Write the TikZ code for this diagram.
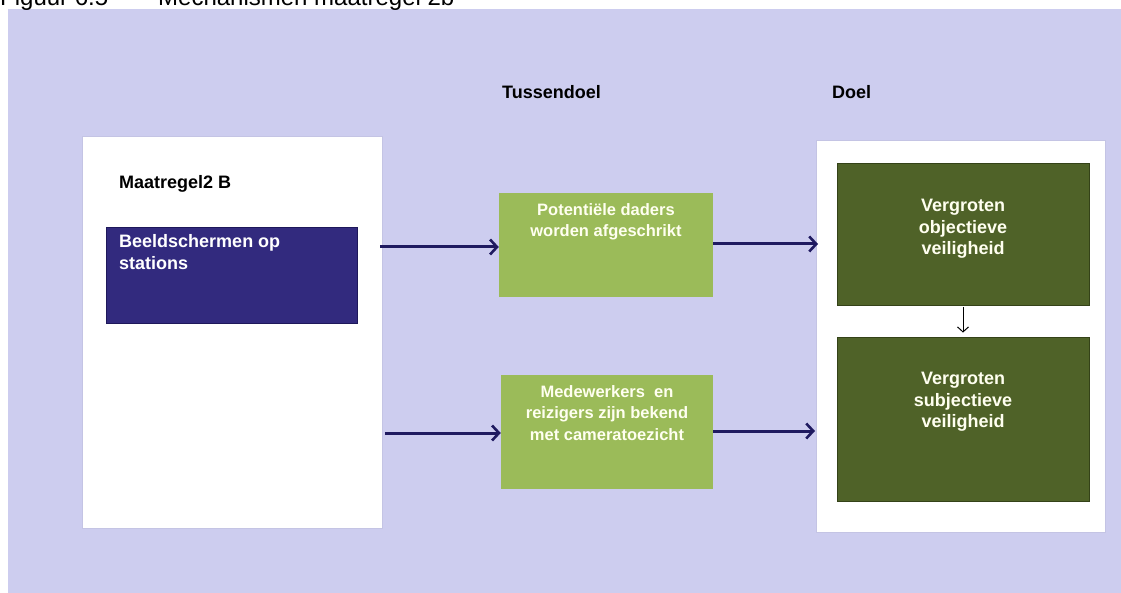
\documentclass[tikz,border=0pt]{standalone}
\usepackage{fontspec}
\setmainfont{Liberation Sans}
\usetikzlibrary{arrows.meta}
\definecolor{lav}{RGB}{205,205,239}
\definecolor{lavedge}{RGB}{196,196,228}
\definecolor{navybox}{RGB}{50,42,126}
\definecolor{navyedge}{RGB}{30,24,90}
\definecolor{arrowc}{RGB}{31,26,96}
\definecolor{lgreen}{RGB}{155,187,89}
\definecolor{dgreen}{RGB}{79,98,40}
\definecolor{dgedge}{RGB}{52,66,24}
\definecolor{cream}{RGB}{255,255,240}
\tikzset{
  panel/.style={draw=lavedge, line width=0.8pt, fill=white, rectangle, inner sep=0pt},
  navyrect/.style={draw=navyedge, line width=0.8pt, fill=navybox, rectangle, inner sep=0pt},
  greenrect/.style={fill=lgreen, rectangle, inner sep=0pt},
  darkrect/.style={draw=dgedge, line width=0.8pt, fill=dgreen, rectangle, inner sep=0pt},
  heading/.style={font=\fontsize{18}{21}\selectfont\bfseries, text=black, inner sep=0pt},
  whitetext/.style={font=\fontsize{18}{22}\selectfont\bfseries, text=white, inner sep=0pt, align=left},
  greentext/.style={font=\fontsize{16.5}{21.5}\selectfont\bfseries, text=cream, inner sep=0pt, align=center},
  darktext/.style={font=\fontsize{18}{21.5}\selectfont\bfseries, text=cream, inner sep=0pt, align=center},
  flow/.style={draw=arrowc, line width=3pt, -{Straight Barb[length=7pt,width=15pt,line width=2.6pt]}},
  thinflow/.style={draw=black, line width=1pt, -{Straight Barb[length=5pt,width=11pt,line width=1pt]}},
}
\begin{document}
\begin{tikzpicture}[x=1pt,y=-1pt]
\useasboundingbox (0,0) rectangle (1121,593);
\clip (0,0) rectangle (1121,593);
% background
\fill[lav] (8,9) rectangle (1121,593);
% caption (cut off at the top, as in the source)
\node[font=\fontsize{24}{28}\selectfont, anchor=base west, inner sep=0pt] (cap1) at (0,6) {Figuur 6.5};
\node[font=\fontsize{24}{28}\selectfont, anchor=base west, inner sep=0pt] (cap2) at (158,6) {Mechanismen maatregel 2b};
% headings
\node[heading, anchor=base west] (tussen) at (502,99) {Tussendoel};
\node[heading, anchor=base west] (doel) at (832,99) {Doel};
% left panel
\node[panel, minimum width=300pt, minimum height=392pt] (left) at (232,332) {};
\node[heading, anchor=base west] (maat) at (119,189) {Maatregel2 B};
\node[navyrect, minimum width=251pt, minimum height=96pt] (navy) at (231.5,275) {};
\node[whitetext, anchor=north west] (beeld) at (119,234.5) {Beeldschermen op\\stations};
% green boxes
\node[greenrect, minimum width=214pt, minimum height=104pt] (g1) at (606,245) {};
\node[greentext, anchor=north] (g1t) at (606,203) {Potentiële daders\\worden afgeschrikt};
\node[greenrect, minimum width=212pt, minimum height=114pt] (g2) at (607,432) {};
\node[greentext, anchor=north] (g2t) at (607,385) {Medewerkers\ \ en\\reizigers zijn bekend\\met cameratoezicht};
% right panel
\node[panel, minimum width=289pt, minimum height=392pt] (right) at (960.5,336) {};
\node[darkrect, minimum width=252pt, minimum height=142pt] (d1) at (963,234) {};
\node[darktext, anchor=north] (d1t) at (963,199) {Vergroten\\objectieve\\veiligheid};
\node[darkrect, minimum width=252pt, minimum height=164pt] (d2) at (963,419) {};
\node[darktext, anchor=north] (d2t) at (963,372) {Vergroten\\subjectieve\\veiligheid};
% connectors
\coordinate (s1) at (380,247);
\coordinate (s2) at (385,433);
\coordinate (e2) at (818,244);
\coordinate (e4) at (815,431);
\draw[flow] (s1) -- (s1 -| g1.west);
\draw[flow] (e2 -| g1.east) -- (e2);
\draw[flow] (s2) -- (s2 -| g2.west);
\draw[flow] (e4 -| g2.east) -- (e4);
\draw[thinflow] ([yshift=-2pt]d1.south) -- ([yshift=4pt]d2.north);
\end{tikzpicture}
\end{document}
